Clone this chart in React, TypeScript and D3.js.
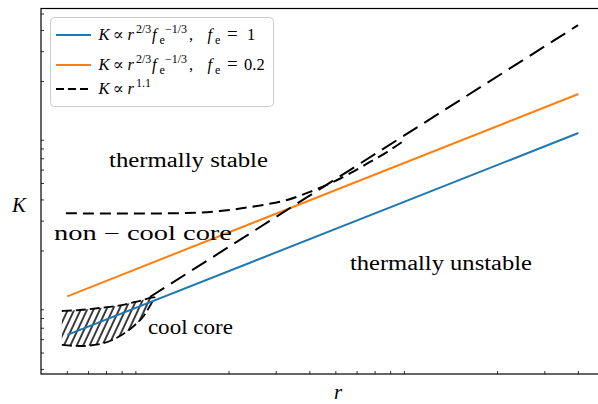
import React from "react";
import * as d3 from "d3";

// ---- data ----
const blueR = [5, 400];
const blueK = [6.4, 99.3];
const orangeR = [5, 400];
const orangeK = [10.8, 168.7];
const steepR = [10.15, 399];
const steepK = [10.7, 430];
const nccR = [4.94, 6.6, 10.2, 15.6, 18.5, 22, 26.8, 32.9, 40, 47.5, 56.4, 67, 77.5, 90.4];
const nccK = [33.4, 33.3, 33.3, 33.7, 34.4, 35.6, 37.4, 40, 44.6, 50, 57.3, 67, 76.7, 90.3];
const ccR = [4.77, 5.57, 6.61, 7.85, 8.93, 9.56, 10.15, 10.6];
const ccKhigh = [8.85, 8.97, 9.22, 9.54, 10.0, 10.27, 10.56, 10.7];
const ccKlow = [5.58, 5.5, 5.65, 6.3, 7.32, 8.16, 9.47, 10.7];
const xMinorTicks = [5, 6, 7, 8, 9, 20, 30, 40, 50, 60, 70, 80, 90, 200, 300, 400, 500];
const yMinorTicks = [4, 5, 6, 7, 8, 9, 20, 30, 40, 50, 60, 70, 80, 90, 200, 300, 400, 500];
const annotTexts = ["thermally stable", "non \u2212 cool core", "thermally unstable", "cool core"];
const annotR = [7.15, 4.46, 56.4, 9.98];
const annotK = [62.5, 23.2, 15.4, 6.47];
const annotWidths = [159, 178, 182, 85];

const W = 598, H = 404;
const L = 41, R = 605, T = 8.5, B = 374;
const serif = "'Liberation Serif', 'DejaVu Serif', serif";

export default function App() {
  const x = d3.scaleLog().domain([3.99, 502.6]).range([L, R]);
  const y = d3.scaleLog().domain([3.76, 539]).range([B, T]);
  const line = d3.line<[number, number]>().x(d => x(d[0])).y(d => y(d[1]));
  const curved = d3.line<[number, number]>().x(d => x(d[0])).y(d => y(d[1])).curve(d3.curveMonotoneX);
  const zip = (a: number[], b: number[]) => a.map((v, i) => [v, b[i]] as [number, number]);

  const area = d3.area<number>()
    .x((_, i) => x(ccR[i]))
    .y0((_, i) => y(ccKlow[i]))
    .y1((_, i) => y(ccKhigh[i]))
    .curve(d3.curveMonotoneX);
  const ccHigh = curved(zip(ccR, ccKhigh));
  const ccLow = curved(zip(ccR, ccKlow));

  const fs = 16.5;
  const sub = 12;
  const legendRow = (yb: number, tail: React.ReactNode, key: string) => (
    <g key={key} fontFamily={serif} fontSize={fs} fill="#000">
      <text x={98.5} y={yb} fontStyle="italic">K</text>
      <text x={112.5} y={yb}>{"\u221D"}</text>
      <text x={127.5} y={yb} fontStyle="italic">r</text>
      {tail}
    </g>
  );

  return (
    <svg width={W} height={H} style={{ position: "absolute", left: 0, top: 0, background: "#fff" }}>
      <defs>
        <pattern id="hatch" patternUnits="userSpaceOnUse" width="5.8" height="10" patternTransform="rotate(25)">
          <line x1="1" y1="-1" x2="1" y2="11" stroke="#000" strokeWidth="1.5" />
        </pattern>
        <clipPath id="plotclip">
          <rect x={L} y={T} width={R - L} height={B - T} />
        </clipPath>
      </defs>
      <rect x={0} y={0} width={W} height={H} fill="#fff" />

      <g clipPath="url(#plotclip)">
        {/* cool core hatched region */}
        <path d={area(ccR) || ""} fill="url(#hatch)" stroke="none" />
        <path d={ccHigh || ""} fill="none" stroke="#000" strokeWidth={1.8} strokeDasharray="10 4" />
        <path d={ccLow || ""} fill="none" stroke="#000" strokeWidth={1.8} strokeDasharray="10 4" />

        <path d={line(zip(blueR, blueK)) || ""} fill="none" stroke="#1f77b4" strokeWidth={2} />
        <path d={line(zip(orangeR, orangeK)) || ""} fill="none" stroke="#ff7f0e" strokeWidth={2} />
        <path d={curved(zip(nccR, nccK)) || ""} fill="none" stroke="#000" strokeWidth={2} strokeDasharray="11 6" />
        <path d={line(zip(steepR, steepK)) || ""} fill="none" stroke="#000" strokeWidth={2} strokeDasharray="17 8" />
      </g>

      {annotTexts.map((t, i) => (
        <text key={t} x={x(annotR[i])} y={y(annotK[i])} fontFamily={serif} fontSize={20.5}
          textLength={annotWidths[i]} lengthAdjust="spacingAndGlyphs" fill="#000">{t}</text>
      ))}

      {/* legend */}
      <rect x={50.5} y={17.5} width={223} height={89} rx={4} fill="#fff" fillOpacity={0.8} stroke="#cccccc" strokeWidth={1} />
      <line x1={56} x2={91} y1={35} y2={35} stroke="#1f77b4" strokeWidth={2} />
      <line x1={56} x2={91} y1={65} y2={65} stroke="#ff7f0e" strokeWidth={2} />
      <line x1={56} x2={91} y1={89} y2={89} stroke="#000" strokeWidth={2} strokeDasharray="8 4" />
      {[40, 70].map((yb, i) =>
        legendRow(yb, (
          <>
            <text x={136} y={yb - 7.5} fontSize={sub}>2/3</text>
            <text x={152} y={yb} fontStyle="italic">f</text>
            <text x={159.5} y={yb + 4} fontSize={sub}>e</text>
            <text x={165} y={yb - 7.5} fontSize={sub}>{"\u22121/3"}</text>
            <text x={189} y={yb}>,</text>
            <text x={207.5} y={yb} fontStyle="italic">f</text>
            <text x={215} y={yb + 4} fontSize={sub}>e</text>
            <text x={227} y={yb} fontSize={19}>=</text>
            <text x={i === 0 ? 247 : 244} y={yb}>{i === 0 ? "1" : "0.2"}</text>
          </>
        ), "row" + i)
      )}
      {legendRow(94, <text x={136} y={94 - 7.5} fontSize={sub}>1.1</text>, "row2")}

      {/* axes frame */}
      <rect x={L} y={T} width={R - L} height={B - T} fill="none" stroke="#000" strokeWidth={1.2} />
      {xMinorTicks.map(t => (
        <line key={"xt" + t} x1={x(t)} x2={x(t)} y1={B} y2={B - 3} stroke="#000" strokeWidth={0.8} />
      ))}
      {yMinorTicks.map(t => (
        <line key={"yt" + t} x1={L} x2={L + 3} y1={y(t)} y2={y(t)} stroke="#000" strokeWidth={0.8} />
      ))}

      <text x={19} y={212} fontFamily={serif} fontStyle="italic" fontSize={21} textAnchor="middle">K</text>
      <text x={338} y={399} fontFamily={serif} fontStyle="italic" fontSize={21} textAnchor="middle">r</text>
    </svg>
  );
}
